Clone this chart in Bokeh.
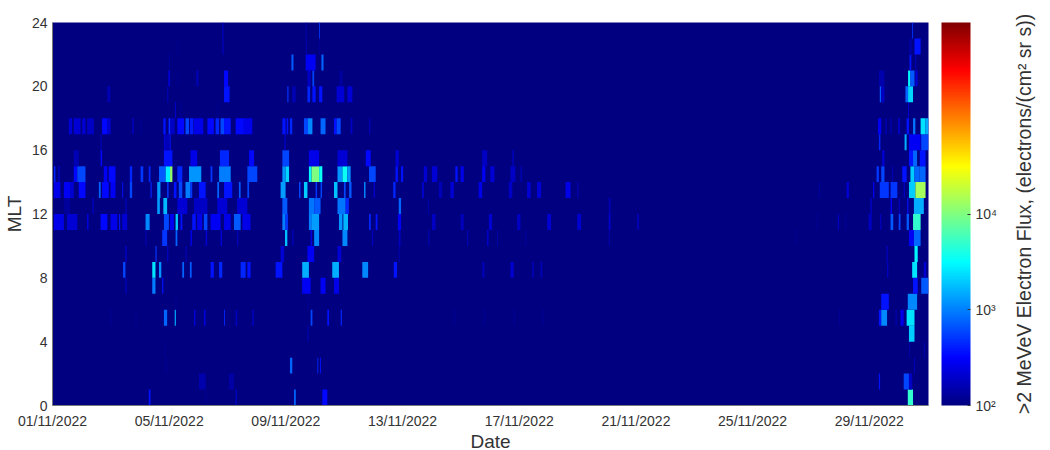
from bokeh.plotting import figure
from bokeh.layouts import row
from bokeh.models import ColumnDataSource, LogColorMapper, ColorBar, FixedTicker
from bokeh.embed import file_html
from bokeh.resources import INLINE

tick_days = [0, 4, 8, 12, 16, 20, 24, 28]
tick_labels = ["01/11/2022", "05/11/2022", "09/11/2022", "13/11/2022", "17/11/2022", "21/11/2022", "25/11/2022", "29/11/2022"]
mlt_ticks = [0, 4, 8, 12, 16, 20, 24]

# Per MLT hour: start day, end day, flux (electrons/(cm2 sr s)); everything else is below 10^2
r23_s = [5.82, 8.68, 9.14, 29.47]
r23_e = [5.86, 8.71, 9.17, 29.50]
r23_f = [190, 150, 520, 520]

r22_s = [4.28, 5.82, 8.68, 9.14, 29.36, 29.55]
r22_e = [4.31, 5.87, 8.72, 9.17, 29.47, 29.76]
r22_f = [120, 160, 150, 130, 130, 370]

r21_s = [3.99, 8.19, 8.68, 9.22, 29.38, 29.58]
r21_e = [4.02, 8.26, 9.02, 9.29, 29.44, 29.61]
r21_f = [135, 700, 290, 800, 370, 190]

r20_s = [3.97, 4.28, 4.93, 5.88, 8.74, 8.91, 9.83, 28.33, 29.33, 29.41, 29.58]
r20_e = [4.03, 4.31, 5.00, 6.02, 8.85, 8.97, 9.95, 28.52, 29.41, 29.55, 29.66]
r20_f = [220, 120, 170, 330, 190, 600, 130, 150, 3000, 700, 220]

r19_s = [1.88, 3.93, 5.88, 8.05, 8.22, 8.74, 8.91, 9.14, 9.74, 10.11, 28.36, 28.41, 29.24, 29.33]
r19_e = [1.98, 3.97, 6.07, 8.09, 8.34, 8.83, 9.02, 9.25, 10.00, 10.28, 28.41, 28.52, 29.33, 29.50]
r19_f = [160, 160, 370, 520, 160, 450, 370, 370, 220, 220, 700, 190, 800, 2200]

r18_s = [4.20, 4.39, 5.65, 29.33]
r18_e = [4.23, 4.41, 5.68, 29.36]
r18_f = [220, 150, 120, 220]

r17_s = [0.56, 0.73, 1.02, 1.19, 1.70, 1.88, 2.73, 3.02, 3.80, 3.96, 3.99, 4.28, 4.56, 4.71, 4.85, 5.31, 5.59, 5.76, 5.88, 6.28, 6.56,
         7.88, 8.03, 8.14, 8.62, 8.76, 9.19, 9.65, 9.74, 10.22, 10.85, 28.30, 28.56, 28.73, 29.00, 29.28, 29.50, 29.76, 29.93]
r17_e = [0.67, 0.96, 1.13, 1.42, 1.88, 1.99, 2.79, 3.05, 3.88, 4.19, 4.03, 4.51, 4.68, 4.83, 5.17, 5.53, 5.71, 5.88, 6.11, 6.56, 6.85,
         7.99, 8.08, 8.22, 8.76, 8.91, 9.36, 9.74, 9.88, 10.28, 10.90, 28.41, 28.59, 28.76, 29.04, 29.36, 29.58, 29.93, 30.03]
r17_f = [220, 220, 220, 190, 330, 220, 170, 130, 370, 190, 520, 330, 600, 400, 260, 330, 450, 600, 370, 330, 260,
         370, 370, 450, 600, 1100, 800, 370, 600, 190, 160, 290, 220, 190, 290, 370, 900, 2500, 1500]

r16_s = [1.65, 3.82, 3.88, 4.02, 7.94, 28.33, 29.21, 29.36, 29.78]
r16_e = [1.68, 3.88, 4.02, 4.05, 8.00, 28.38, 29.28, 29.76, 30.03]
r16_f = [190, 220, 170, 370, 160, 450, 1500, 290, 600]

r15_s = [0.73, 1.65, 3.82, 4.73, 5.74, 6.74, 7.88, 8.79, 9.77, 10.74, 11.76, 14.73, 15.76, 28.44, 29.36, 29.50, 29.73]
r15_e = [0.90, 1.70, 4.11, 4.96, 6.05, 6.91, 8.11, 9.14, 10.11, 10.91, 11.87, 14.90, 15.82, 28.52, 29.50, 29.64, 29.93]
r15_f = [160, 330, 370, 260, 450, 330, 600, 260, 220, 330, 220, 190, 160, 220, 370, 800, 370]

r14_s = [0.05, 0.20, 0.73, 0.85, 1.76, 1.93, 2.65, 3.02, 3.30, 3.65, 3.88, 4.03, 4.28, 4.68, 5.42, 5.71, 6.68, 7.88, 7.99, 8.79, 8.88, 9.14,
         9.77, 9.94, 10.11, 10.85, 11.76, 11.95, 12.73, 13.01, 13.81, 13.99, 14.73, 15.01, 15.70, 16.04,
         28.25, 28.41, 28.78, 29.13, 29.41, 29.55, 29.73]
r14_e = [0.10, 0.25, 0.85, 1.13, 1.88, 2.16, 2.73, 3.11, 3.36, 3.88, 4.03, 4.11, 4.45, 5.10, 5.48, 6.11, 7.02, 7.99, 8.11, 8.88, 9.14, 9.25,
         9.94, 10.11, 10.22, 11.08, 11.84, 12.02, 12.84, 13.19, 13.89, 14.10, 14.84, 15.15, 15.87, 16.10,
         28.33, 28.52, 28.82, 29.28, 29.55, 29.73, 29.93]
r14_f = [450, 190, 330, 600, 290, 330, 450, 520, 450, 700, 2800, 12000, 450, 1200, 520, 1000, 600, 1200, 2200, 3000, 10000, 3500,
         1200, 3500, 1200, 600, 370, 370, 220, 220, 370, 260, 290, 220, 190, 150,
         520, 600, 160, 370, 2000, 800, 800]

r13_s = [0.05, 0.39, 0.62, 0.90, 1.59, 1.70, 1.99, 2.39, 2.65, 3.36, 3.59, 3.93, 4.16, 4.33, 4.56, 4.73, 5.02, 5.65, 5.88, 6.39, 6.68, 7.82,
         8.45, 8.62, 9.02, 9.19, 9.65, 9.99, 10.17, 10.68, 11.01, 11.68, 12.67, 13.24, 13.64, 14.61, 15.64, 16.27, 16.61, 17.59, 17.99,
         26.27, 27.22, 28.13, 28.36, 28.73, 29.18, 29.36, 29.58]
r13_e = [0.27, 0.62, 0.73, 1.13, 1.65, 1.93, 2.16, 2.42, 2.73, 3.40, 3.70, 3.98, 4.25, 4.45, 4.73, 4.79, 5.25, 5.71, 6.16, 6.45, 6.74, 7.99,
         8.50, 8.74, 9.07, 9.24, 9.77, 10.05, 10.25, 10.73, 11.05, 11.76, 12.73, 13.36, 13.76, 14.73, 15.76, 16.39, 16.75, 17.76, 18.03,
         26.31, 27.30, 28.17, 28.67, 28.96, 29.22, 29.58, 29.93]
r13_f = [260, 290, 220, 330, 800, 330, 290, 370, 600, 450, 1300, 520, 370, 600, 1000, 520, 370, 800, 370, 700, 600, 1300,
         600, 2000, 520, 600, 1800, 600, 700, 1100, 220, 450, 220, 160, 220, 260, 190, 220, 220, 260, 170,
         130, 220, 290, 520, 520, 190, 2000, 14000]

r12_s = [0.40, 1.36, 2.50, 3.59, 3.80, 4.28, 4.85, 5.65, 6.33, 7.88, 8.79, 8.97, 9.77, 10.05, 11.87, 12.88, 19.07, 28.04, 28.73, 29.01, 29.30, 29.53]
r12_e = [0.60, 1.42, 2.54, 3.68, 3.93, 4.62, 5.31, 5.99, 6.68, 8.05, 8.97, 9.19, 10.05, 10.16, 11.95, 12.91, 19.13, 28.08, 28.78, 29.04, 29.34, 29.87]
r12_f = [130, 160, 190, 1300, 1700, 220, 190, 220, 220, 700, 900, 700, 900, 450, 800, 160, 160, 220, 290, 220, 370, 1500]

r11_s = [0.05, 0.50, 1.19, 1.65, 1.99, 2.28, 2.39, 3.19, 3.82, 4.03, 4.22, 4.39, 4.79, 4.96, 5.19, 5.42, 5.88, 6.22, 6.51, 7.88, 7.99,
         8.79, 8.87, 9.82, 9.97, 10.85, 11.08, 11.84, 13.01, 13.99, 14.96, 15.93, 16.96, 17.99, 19.07, 20.04,
         26.21, 26.92, 27.18, 27.98, 28.38, 28.73, 29.01, 29.28, 29.50]
r11_e = [0.39, 0.85, 1.23, 1.88, 2.22, 2.32, 2.56, 3.33, 3.99, 4.16, 4.30, 4.45, 4.91, 5.13, 5.31, 5.76, 6.11, 6.45, 6.79, 7.99, 8.07,
         8.87, 9.14, 9.94, 10.13, 10.91, 11.14, 11.95, 13.13, 14.10, 15.07, 16.04, 17.09, 18.12, 19.13, 20.10,
         26.24, 26.96, 27.21, 28.08, 28.41, 28.82, 29.07, 29.36, 29.76]
r11_f = [260, 220, 290, 330, 260, 370, 220, 1100, 600, 290, 2000, 370, 370, 260, 600, 290, 260, 700, 260, 1000, 520,
         1000, 1300, 1200, 1600, 450, 370, 290, 190, 170, 210, 190, 220, 210, 210, 170,
         120, 190, 130, 190, 220, 700, 600, 700, 5000]

r10_s = [3.19, 3.76, 4.22, 4.73, 5.25, 5.76, 6.33, 7.97, 8.22, 8.85, 8.97, 9.94, 10.95, 11.87, 12.88, 14.21, 14.89, 15.24, 16.21, 19.07, 25.47, 29.36, 29.53]
r10_e = [3.22, 3.93, 4.28, 4.78, 5.30, 5.81, 6.37, 8.05, 8.26, 8.89, 9.14, 10.11, 10.99, 11.93, 12.92, 14.25, 14.95, 15.27, 16.24, 19.10, 25.50, 29.53, 29.76]
r10_f = [190, 520, 800, 260, 220, 220, 190, 1800, 190, 290, 1100, 1100, 190, 190, 160, 160, 190, 150, 140, 160, 120, 290, 800]

r9_s = [2.50, 3.53, 3.93, 4.56, 7.82, 8.74, 9.77, 11.87, 28.59, 29.55]
r9_e = [2.54, 3.57, 3.97, 4.60, 7.94, 8.97, 9.90, 11.90, 28.63, 29.66]
r9_f = [220, 520, 190, 160, 220, 290, 220, 160, 190, 3000]

r8_s = [2.42, 3.42, 3.65, 4.45, 4.71, 5.42, 5.71, 6.45, 6.68, 7.65, 8.56, 9.59, 10.62, 11.70, 14.73, 15.70, 16.44, 16.73, 28.61, 29.47, 29.87]
r8_e = [2.50, 3.53, 3.73, 4.51, 4.77, 5.53, 5.82, 6.62, 6.79, 7.88, 8.79, 9.82, 10.82, 11.81, 14.81, 15.81, 16.50, 16.79, 28.65, 29.64, 29.95]
r8_f = [600, 2500, 1200, 800, 700, 370, 450, 450, 370, 370, 1500, 1500, 1100, 370, 160, 210, 160, 160, 190, 2500, 220]

r7_s = [2.50, 3.42, 3.76, 8.56, 9.19, 9.65, 29.50, 29.78]
r7_e = [2.54, 3.53, 3.80, 8.85, 9.36, 9.82, 29.66, 30.03]
r7_f = [190, 1000, 370, 290, 290, 260, 370, 700]

r6_s = [4.22, 8.74, 28.41, 29.32]
r6_e = [4.25, 8.78, 28.67, 29.64]
r6_f = [120, 120, 370, 1100]

r5_s = [1.99, 2.85, 3.82, 4.19, 4.85, 5.19, 5.88, 6.28, 6.85, 8.85, 9.42, 9.88, 13.76, 14.79, 15.81, 16.79, 26.96, 28.33, 28.41, 28.90, 29.07, 29.28]
r5_e = [2.02, 2.88, 3.93, 4.23, 4.90, 5.25, 5.91, 6.33, 6.90, 8.91, 9.48, 9.92, 13.80, 14.83, 15.85, 16.83, 27.00, 28.41, 28.61, 28.94, 29.18, 29.55]
r5_f = [120, 120, 800, 1500, 220, 220, 450, 190, 190, 600, 370, 450, 120, 120, 120, 120, 120, 370, 1100, 160, 260, 2500]

r4_s = [8.74, 29.36]
r4_e = [8.79, 29.55]
r4_f = [140, 2000]

r3_s = [3.83, 29.36, 29.87]
r3_e = [3.87, 29.40, 29.91]
r3_f = [115, 140, 140]

r2_s = [3.88, 8.14, 9.08, 9.17, 29.53]
r2_e = [3.92, 8.22, 9.11, 9.20, 29.57]
r2_f = [120, 800, 450, 370, 170]

r1_s = [5.02, 6.05, 28.33, 29.18, 29.36]
r1_e = [5.25, 6.22, 28.37, 29.36, 29.47]
r1_f = [150, 140, 370, 600, 190]

r0_s = [3.30, 5.25, 6.28, 8.28, 9.25, 29.32]
r0_e = [3.36, 5.28, 6.31, 8.34, 9.42, 29.50]
r0_f = [370, 120, 260, 800, 330, 5000]

rows = [(r0_s, r0_e, r0_f), (r1_s, r1_e, r1_f), (r2_s, r2_e, r2_f), (r3_s, r3_e, r3_f), (r4_s, r4_e, r4_f), (r5_s, r5_e, r5_f),
        (r6_s, r6_e, r6_f), (r7_s, r7_e, r7_f), (r8_s, r8_e, r8_f), (r9_s, r9_e, r9_f), (r10_s, r10_e, r10_f), (r11_s, r11_e, r11_f),
        (r12_s, r12_e, r12_f), (r13_s, r13_e, r13_f), (r14_s, r14_e, r14_f), (r15_s, r15_e, r15_f), (r16_s, r16_e, r16_f), (r17_s, r17_e, r17_f),
        (r18_s, r18_e, r18_f), (r19_s, r19_e, r19_f), (r20_s, r20_e, r20_f), (r21_s, r21_e, r21_f), (r22_s, r22_e, r22_f), (r23_s, r23_e, r23_f)]


def jet(n=256):
    out = []
    for i in range(n):
        t = (i + 0.5) / n
        r = min(max(min(4 * t - 1.5, -4 * t + 4.5), 0), 1)
        g = min(max(min(4 * t - 0.5, -4 * t + 3.5), 0), 1)
        b = min(max(min(4 * t + 0.5, -4 * t + 2.5), 0), 1)
        out.append("#%02x%02x%02x" % (round(r * 255), round(g * 255), round(b * 255)))
    return out


palette = jet()
mapper = LogColorMapper(palette=palette, low=100, high=1000000)

left, right, bottom, top, flux = [], [], [], [], []
for mlt, (s, e, f) in enumerate(rows):
    left += s
    right += e
    bottom += [mlt] * len(s)
    top += [mlt + 1] * len(s)
    flux += f
src = ColumnDataSource(dict(left=left, right=right, bottom=bottom, top=top, flux=flux))

TXT = "#333333"
FONT = "Liberation Sans"
p = figure(frame_width=876, frame_height=383, x_range=(0, 30.03), y_range=(0, 24),
           output_backend="svg", toolbar_location=None,
           min_border_left=52, min_border_top=22, min_border_bottom=45, min_border_right=81,
           background_fill_color=palette[0], border_fill_color="white", outline_line_color=None)
p.grid.visible = False
p.quad(left="left", right="right", bottom="bottom", top="top", source=src, line_color=None,
       fill_color={"field": "flux", "transform": mapper})

p.xaxis.ticker = FixedTicker(ticks=tick_days)
p.xaxis.major_label_overrides = dict(zip(tick_days, tick_labels))
p.yaxis.ticker = FixedTicker(ticks=mlt_ticks)
p.xaxis.axis_label = "Date"
p.yaxis.axis_label = "MLT"
for ax in (p.xaxis[0], p.yaxis[0]):
    ax.axis_line_color = "#777777"
    ax.major_tick_line_color = None
    ax.major_tick_out = 0
    ax.major_tick_in = 0
    ax.minor_tick_line_color = None
    ax.minor_tick_out = 0
    ax.major_label_text_font = FONT
    ax.major_label_text_font_size = "14px"
    ax.major_label_text_color = TXT
    ax.axis_label_text_font = FONT
    ax.axis_label_text_font_style = "normal"
    ax.axis_label_text_font_size = "19px"
    ax.axis_label_text_color = TXT
p.xaxis.major_label_standoff = 7
p.xaxis.axis_label_standoff = -1
p.yaxis.major_label_standoff = 5
p.yaxis.axis_label_standoff = 4

cb = ColorBar(color_mapper=mapper, ticker=FixedTicker(ticks=[100, 1000, 10000]),
              major_label_overrides={100: "10²", 1000: "10³", 10000: "10⁴"},
              width=29, height=383, padding=0, location=(889, 0),
              major_tick_line_color=TXT, major_tick_in=3, minor_tick_line_color=None,
              bar_line_color=None, label_standoff=5,
              background_fill_alpha=0, border_line_color=None,
              major_label_text_font=FONT, major_label_text_font_size="14px", major_label_text_color=TXT)
p.add_layout(cb, "center")

# A narrow neighbouring figure carries the colour bar's title, which reads bottom to top on a left axis.
q = figure(frame_width=1, frame_height=383, x_range=(0, 1), y_range=(0, 24),
           output_backend="svg", toolbar_location=None,
           min_border_left=40, min_border_top=22, min_border_bottom=45, min_border_right=0,
           background_fill_color="white", border_fill_color="white", outline_line_color=None)
q.grid.visible = False
q.xaxis.visible = False
qa = q.yaxis[0]
qa.ticker = FixedTicker(ticks=[])
qa.axis_line_color = None
qa.major_tick_line_color = None
qa.minor_tick_line_color = None
qa.major_tick_out = 0
qa.major_tick_in = 0
qa.minor_tick_out = 0
qa.major_label_standoff = 0
qa.axis_label = ">2 MeVeV Electron Flux, (electrons/(cm² sr s))"
qa.axis_label_standoff = 17
qa.axis_label_text_font = FONT
qa.axis_label_text_font_style = "normal"
qa.axis_label_text_font_size = "19.5px"
qa.axis_label_text_color = TXT

open("out.html", "w").write(file_html(row(p, q), INLINE))
